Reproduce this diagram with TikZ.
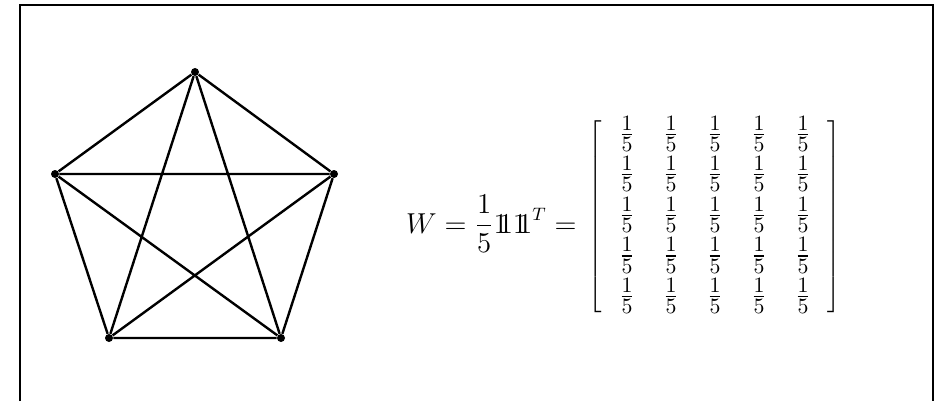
\documentclass[tikz,border=0pt]{standalone}
\usepackage{amsmath,amssymb}
\usetikzlibrary{matrix}
\newcommand{\onevec}{\mathrm{1\mkern-5.5mu1}}

\begin{document}
\begin{tikzpicture}[x=0.5pt,y=-0.5pt,
  vertex/.style={circle,fill,inner sep=0pt,minimum size=4pt},
  edge/.style={very thick}]
\useasboundingbox (0,0) rectangle (935,401);
\draw[line width=1.4pt] (20,401)--(20,5)--(933,5)--(933,401);
% complete graph on five vertices
\node[vertex] (t) at (195,72) {};
\node[vertex] (l) at (55,174) {};
\node[vertex] (r) at (334,174) {};
\node[vertex] (bl) at (109,338) {};
\node[vertex] (br) at (281,338) {};
\draw[edge] (t)--(l)--(bl)--(br)--(r)--(t);
\draw[edge] (t)--(bl) (t)--(br) (l)--(r) (l)--(br) (r)--(bl);
% averaging matrix
\node[anchor=base east,inner sep=0pt,font=\fontsize{13.4}{16}\selectfont] (eq) at (577,233) {$\displaystyle W=\frac{1}{5}\onevec\onevec^T=$};
\matrix (W) [matrix of math nodes,left delimiter={[},right delimiter={]},
  nodes={inner sep=0pt,text height=9.6pt,text depth=4pt,minimum width=22pt,font=\fontsize{15.5}{18}\selectfont},
  row sep=6.7pt,column sep=0pt,inner sep=0pt] at (715,217) {
\frac{1}{5} & \frac{1}{5} & \frac{1}{5} & \frac{1}{5} & \frac{1}{5} \\
\frac{1}{5} & \frac{1}{5} & \frac{1}{5} & \frac{1}{5} & \frac{1}{5} \\
\frac{1}{5} & \frac{1}{5} & \frac{1}{5} & \frac{1}{5} & \frac{1}{5} \\
\frac{1}{5} & \frac{1}{5} & \frac{1}{5} & \frac{1}{5} & \frac{1}{5} \\
\frac{1}{5} & \frac{1}{5} & \frac{1}{5} & \frac{1}{5} & \frac{1}{5} \\
};
\end{tikzpicture}
\end{document}
